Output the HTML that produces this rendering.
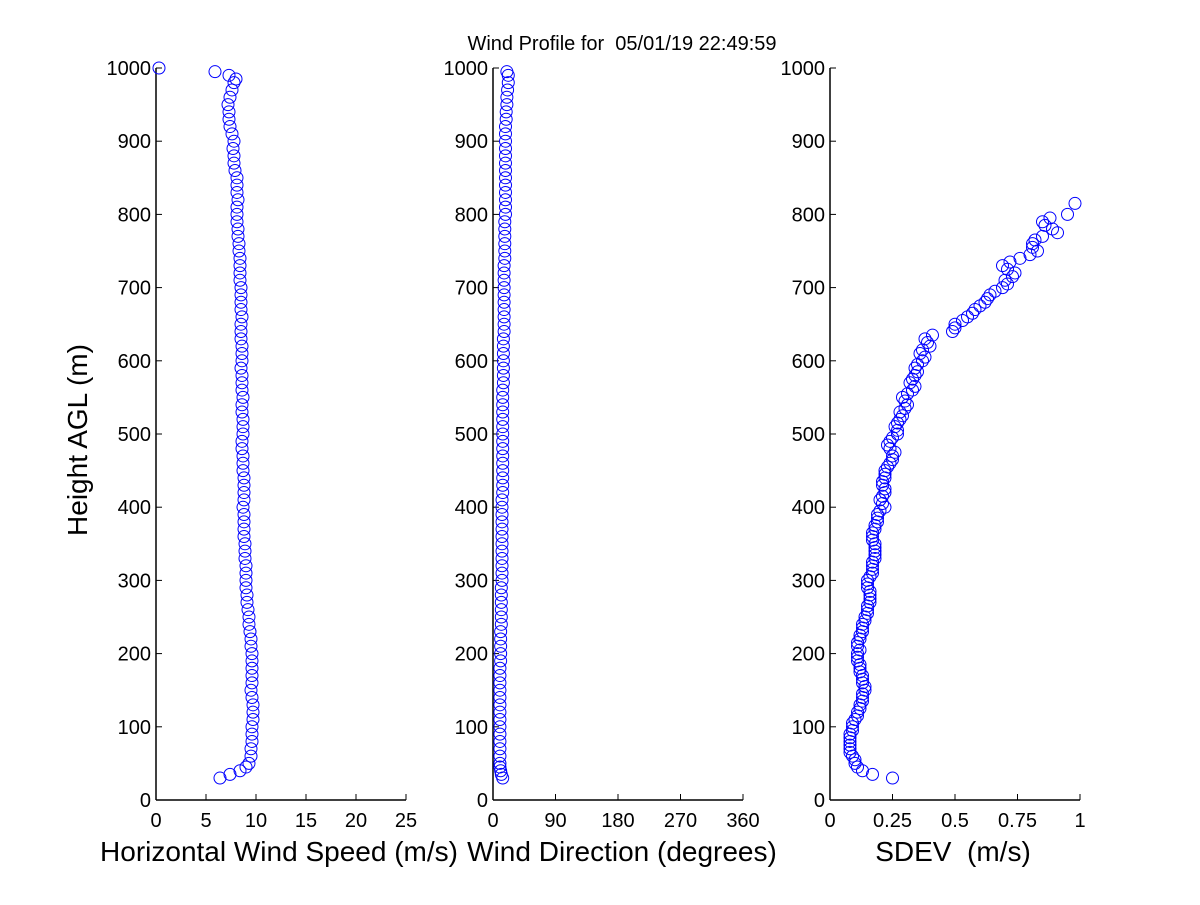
<!DOCTYPE html>
<html><head><meta charset="utf-8"><style>
body{margin:0;background:#fff}
svg text{font-family:"Liberation Sans",Arial,sans-serif;fill:#000;white-space:pre}
</style></head><body>
<svg id="chart" width="1200" height="900" xmlns="http://www.w3.org/2000/svg">
<rect width="1200" height="900" fill="#fff"/>
<text x="622" y="50" font-size="20" text-anchor="middle">Wind Profile for  05/01/19 22:49:59</text>
<text transform="translate(87,440) rotate(-90)" font-size="28" text-anchor="middle">Height AGL (m)</text>
<g id="plots"></g>
</svg>
<script>
const heights = [30,35,40,45,50,60,70,80,90,100,110,120,130,140,150,160,170,180,190,200,210,220,230,240,250,260,270,280,290,300,310,320,330,340,350,360,370,380,390,400,410,420,430,440,450,460,470,480,490,500,510,520,530,540,550,560,570,580,590,600,610,620,630,640,650,660,670,680,690,700,710,720,730,740,750,760,770,780,790,800,810,820,830,840,850,860,870,880,890,900,910,920,930,940,950,960,970,980,985,990,995,1000];
const speedValues = [6.4,7.4,8.4,9.0,9.3,9.5,9.5,9.6,9.6,9.6,9.7,9.7,9.7,9.6,9.5,9.6,9.6,9.6,9.6,9.6,9.5,9.5,9.4,9.3,9.3,9.2,9.1,9.1,9.0,9.0,9.0,9.0,8.9,8.9,8.9,8.8,8.8,8.8,8.8,8.7,8.8,8.8,8.8,8.8,8.7,8.7,8.7,8.6,8.6,8.7,8.7,8.7,8.6,8.6,8.7,8.6,8.6,8.6,8.5,8.6,8.6,8.6,8.5,8.5,8.5,8.6,8.5,8.5,8.5,8.5,8.4,8.4,8.4,8.4,8.3,8.3,8.2,8.2,8.1,8.1,8.1,8.2,8.1,8.1,8.1,7.9,7.8,7.8,7.7,7.8,7.6,7.4,7.3,7.3,7.2,7.4,7.6,7.8,8.0,7.3,5.9,0.3];
const dirHeights = [30,35,40,45,50,60,70,80,90,100,110,120,130,140,150,160,170,180,190,200,210,220,230,240,250,260,270,280,290,300,310,320,330,340,350,360,370,380,390,400,410,420,430,440,450,460,470,480,490,500,510,520,530,540,550,560,570,580,590,600,610,620,630,640,650,660,670,680,690,700,710,720,730,740,750,760,770,780,790,800,810,820,830,840,850,860,870,880,890,900,910,920,930,940,950,960,970,980,990,995];
const dirValues = [14,12,11,10,10,10,10,10,10,10,10,10,10,10,10,10,10,10,11,11,11,11,11,12,12,12,12,12,12,13,13,13,13,13,13,13,13,13,13,13,13,14,14,14,14,14,14,14,14,14,14,14,14,14,14,14,15,15,15,15,15,15,15,16,16,16,16,16,16,16,16,16,16,17,17,17,17,17,17,18,18,18,18,18,18,18,18,18,18,18,18,18,19,19,20,20,21,22,22,20];
const sdevHeights = [30,35,40,45,50,55,60,65,70,75,80,85,90,95,100,105,110,115,120,125,130,135,140,145,150,155,160,165,170,175,180,185,190,195,200,205,210,215,220,225,230,235,240,245,250,255,260,265,270,275,280,285,290,295,300,305,310,315,320,325,330,335,340,345,350,355,360,365,370,375,380,385,390,395,400,405,410,415,420,425,430,435,440,445,450,455,460,465,470,475,480,485,490,495,500,505,510,515,520,525,530,535,540,545,550,555,560,565,570,575,580,585,590,595,600,605,610,615,620,625,630,635,640,645,650,655,660,665,670,675,680,685,690,695,700,705,710,715,720,725,730,735,740,745,750,755,760,765,770,775,780,785,790,795,800,815];
const sdevValues = [0.25,0.17,0.13,0.11,0.10,0.10,0.09,0.08,0.08,0.08,0.08,0.08,0.08,0.09,0.09,0.09,0.10,0.11,0.11,0.12,0.12,0.13,0.13,0.13,0.14,0.14,0.13,0.13,0.13,0.12,0.12,0.12,0.11,0.11,0.11,0.12,0.11,0.11,0.12,0.12,0.13,0.13,0.13,0.14,0.14,0.15,0.15,0.15,0.16,0.16,0.16,0.16,0.15,0.15,0.15,0.16,0.17,0.17,0.17,0.17,0.18,0.18,0.18,0.18,0.18,0.17,0.17,0.17,0.18,0.18,0.19,0.19,0.19,0.20,0.22,0.21,0.20,0.21,0.22,0.22,0.21,0.21,0.22,0.22,0.22,0.23,0.24,0.25,0.25,0.26,0.24,0.23,0.24,0.25,0.27,0.27,0.26,0.27,0.28,0.29,0.28,0.30,0.31,0.30,0.29,0.31,0.33,0.34,0.32,0.33,0.34,0.35,0.34,0.35,0.37,0.38,0.36,0.37,0.40,0.39,0.38,0.41,0.49,0.50,0.50,0.53,0.55,0.57,0.58,0.60,0.62,0.63,0.64,0.66,0.69,0.71,0.70,0.73,0.74,0.71,0.69,0.72,0.76,0.80,0.83,0.81,0.81,0.82,0.85,0.91,0.89,0.86,0.85,0.88,0.95,0.98];
const yTicks = [0,100,200,300,400,500,600,700,800,900,1000];
const speedTicks = [0,5,10,15,20,25];
const dirTicks = [0,90,180,270,360];
const sdevTicks = [0,0.25,0.5,0.75,1];
const sdevTickLabels = ['0','0.25','0.5','0.75','1'];

const NS='http://www.w3.org/2000/svg';
const root=document.getElementById('plots');
const Y0=800,Y1=68;
function yScale(h){return Y0+(Y1-Y0)*h/1000;}
function mk(tag,attrs,parent){const e=document.createElementNS(NS,tag);for(const k in attrs)e.setAttribute(k,attrs[k]);parent.appendChild(e);return e;}

function panel(name,x0,x1,xmax,xticks,xlabels,xs,ys,title,titleX){
  const g=mk('g',{},root);
  
  
  const xScale=v=>x0+(x1-x0)*v/xmax;
  const ax=mk('line',{x1:x0,y1:Y0,x2:x0,y2:Y1,stroke:'#000','stroke-width':1.5},g);
  
  
  const bx=mk('line',{x1:x0,y1:Y0,x2:x1,y2:Y0,stroke:'#000','stroke-width':1.5},g);
  
  
  yTicks.forEach(t=>{
    const y=yScale(t);
    mk('line',{x1:x0,y1:y,x2:x0+6,y2:y,stroke:'#000'},g);
    const tx=mk('text',{x:x0-5,y:y+7,'font-size':20,'text-anchor':'end'},g);
    tx.textContent=t;
    
    
  });
  xticks.forEach((t,i)=>{
    const x=xScale(t);
    mk('line',{x1:x,y1:Y0,x2:x,y2:Y0-6,stroke:'#000'},g);
    const tx=mk('text',{x:x,y:Y0+27,'font-size':20,'text-anchor':'middle'},g);
    tx.textContent=xlabels[i];
    
    
  });
  const tt=mk('text',{x:titleX,y:861,'font-size':28,'text-anchor':'middle'},g);
  tt.textContent=title;
  
  
  xs.forEach((v,i)=>{
    const c=mk('circle',{cx:xScale(v),cy:yScale(ys[i]),r:6,fill:'none',stroke:'#0000ff','stroke-width':1},g);
    
    
  });
}
panel('speed',156,406,25,speedTicks,speedTicks.map(String),speedValues,heights,'Horizontal Wind Speed (m/s)',279);
panel('direction',493,743,360,dirTicks,dirTicks.map(String),dirValues,dirHeights,'Wind Direction (degrees)',622);
panel('sdev',830,1080,1,sdevTicks,sdevTickLabels,sdevValues,sdevHeights,'SDEV  (m/s)',953);
</script>
</body></html>
